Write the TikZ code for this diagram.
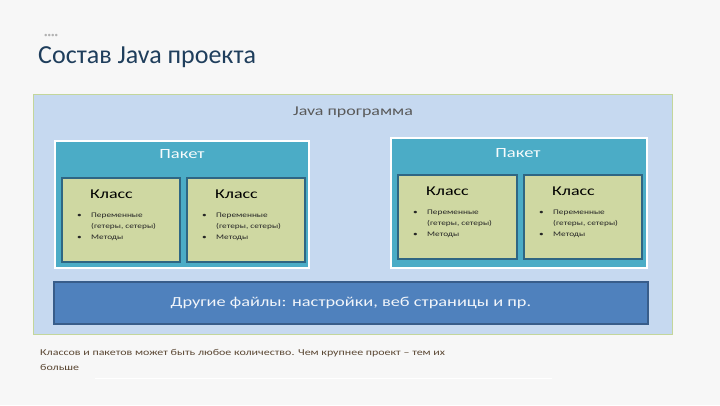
\documentclass[tikz,border=0pt]{standalone}
\usepackage{fontspec}
\setmainfont{Carlito}
\newfontfamily\widefont{Carlito}[FakeStretch=1.33]
\begin{document}
\begin{tikzpicture}[x=1pt,y=-1pt,
  outerbox/.style={draw=outerborder, fill=outerfill, line width=1.2pt},
  pkgbox/.style={draw=white, fill=pkgfill, line width=1.5pt},
  clsbox/.style={draw=clsborder, fill=clsfill, line width=2pt},
  barbox/.style={draw=barborder, fill=barfill, line width=1.8pt},
  lbl/.style={inner sep=0pt, anchor=base west},
  bul/.style={inner sep=0pt, anchor=base west, font=\widefont\fontsize{7}{8}\selectfont, text=black!85},
]
\definecolor{outerfill}{HTML}{C6D9F0}
\definecolor{outerborder}{HTML}{C3D69B}
\definecolor{pkgfill}{HTML}{4BACC6}
\definecolor{clsfill}{HTML}{CFD8A2}
\definecolor{clsborder}{HTML}{2F6683}
\definecolor{barfill}{HTML}{4F81BD}
\definecolor{barborder}{HTML}{385D8A}
\definecolor{titlecol}{HTML}{1F3E5C}
\definecolor{notecol}{HTML}{5A4632}
\useasboundingbox (0,0) rectangle (720,405);
\fill[black!3] (0,0) rectangle (720,405);
% title
\node[lbl, text=black!30, font=\fontsize{7}{8}\selectfont] (dots) at (44,37) {••••};
\node[lbl, text=titlecol, font=\fontsize{26}{28}\selectfont] (title) at (38,63) {Состав Java проекта};
% outer
\node[outerbox, minimum width=639pt, minimum height=240pt, inner sep=0pt, anchor=north west] (outer) at (33,94) {};
\node[inner sep=0pt, text=black!65, font=\widefont\fontsize{13.5}{14}\selectfont] (jp) at (353,112) {Java программа};
% packages
\node[pkgbox, minimum width=254pt, minimum height=127pt, inner sep=0pt, anchor=north west] (p1) at (54,140) {};
\node[pkgbox, minimum width=256pt, minimum height=130pt, inner sep=0pt, anchor=north west] (p2) at (390,137) {};
\node[inner sep=0pt, text=white!95!pkgfill, font=\widefont\fontsize{14}{15}\selectfont] (p1t) at (182,154) {Пакет};
\node[inner sep=0pt, text=white!95!pkgfill, font=\widefont\fontsize{14}{15}\selectfont] (p2t) at (518,153) {Пакет};
% classes
\foreach \n/\x/\y/\w in {c1/61/177/118, c2/186/177/118, c3/397/174/119, c4/523/174/118}{
  \node[clsbox, minimum width=\w pt, minimum height=84pt, inner sep=0pt, anchor=north west] (\n) at (\x,\y) {};
  \node[lbl, font=\widefont\fontsize{13.5}{15}\selectfont] (\n t) at (\x+29,\y+21) {Класс};
  \node[bul] (\n b1) at (\x+16,\y+40) {•};
  \node[bul] (\n l1) at (\x+30,\y+40) {Переменные};
  \node[bul] (\n l2) at (\x+30,\y+51) {(гетеры, сетеры)};
  \node[bul] (\n b2) at (\x+16,\y+62) {•};
  \node[bul] (\n l3) at (\x+30,\y+62) {Методы};
}
% bar
\node[barbox, minimum width=594pt, minimum height=42pt, inner sep=0pt, anchor=north west] (bar) at (53,281) {};
\node[inner sep=0pt, text=white!92!barfill, font=\widefont\fontsize{13.8}{15}\selectfont] (bart) at (bar.center) {Другие файлы: настройки, веб страницы и пр.};
% note
\node[lbl, text=notecol, font=\widefont\fontsize{9}{10}\selectfont] (n1) at (40,355) {Классов и пакетов может быть любое количество. Чем крупнее проект – тем их};
\node[lbl, text=notecol, font=\widefont\fontsize{9}{10}\selectfont] (n2) at (40,370) {больше};
\draw[white, line width=0.8pt] (95,378) -- (552,378);
\end{tikzpicture}
\end{document}
